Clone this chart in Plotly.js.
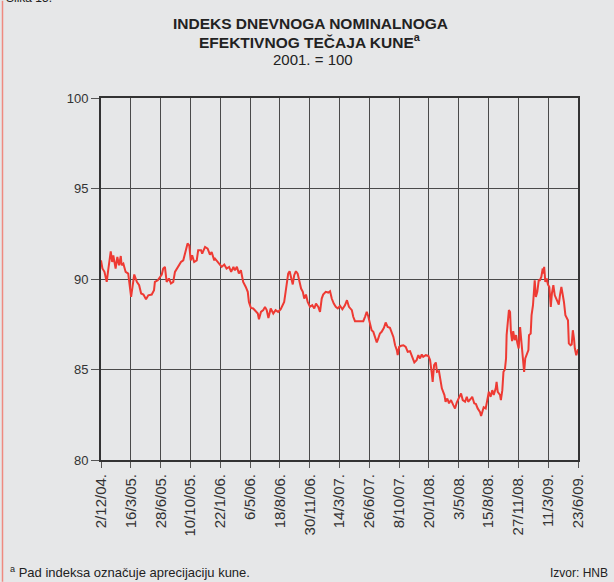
<!DOCTYPE html>
<html>
<head>
<meta charset="utf-8">
<script src="https://cdn.plot.ly/plotly-3.0.1.min.js"></script>
<style>
  html, body { margin: 0; padding: 0; background: #e6e7e8; }
  #chart { width: 614px; height: 582px; }
</style>
</head>
<body>
<div id="chart"></div>
<script>
// Tick labels on the x axis (dates, d/m/yy.)
const tickLabels = ['2/12/04.', '16/3/05.', '28/6/05.', '10/10/05.', '22/1/06.', '6/5/06.', '18/8/06.',
  '30/11/06.', '14/3/07.', '26/6/07.', '8/10/07.', '20/1/08.', '3/5/08.', '15/8/08.', '27/11/08.',
  '11/3/09.', '23/6/09.'];

// Observation dates, as days after 2 Dec 2004
const dayOffsets = [0, 5, 12, 20, 25, 34, 39, 43, 51, 57, 63, 69, 72, 78, 86, 95, 105, 111, 116, 125,
  133, 140, 148, 157, 165, 177, 185, 188, 198, 206, 212, 217, 223, 229, 237, 244, 252, 258, 268, 279,
  287, 293, 302, 308, 313, 318, 325, 334, 339, 349, 353, 363, 372, 380, 386, 395, 398, 412, 421, 430,
  438, 447, 454, 462, 467, 474, 481, 488, 496, 505, 512, 516, 523, 531, 540, 547, 551, 558, 566, 572,
  578, 584, 592, 601, 609, 618, 627, 634, 639, 644, 649, 653, 658, 663, 669, 674, 680, 686, 692, 698,
  704, 709, 715, 721, 729, 737, 744, 750, 758, 764, 770, 775, 784, 793, 799, 805, 812, 819, 826, 834,
  842, 851, 858, 865, 875, 880, 886, 898, 915, 921, 927, 932, 938, 944, 950, 956, 962, 967, 973, 979,
  987, 993, 1000, 1008, 1014, 1020, 1026, 1032, 1035, 1040, 1047, 1055, 1063, 1070, 1078, 1086, 1093,
  1101, 1107, 1113, 1119, 1124, 1133, 1142, 1148, 1154, 1157, 1162, 1168, 1172, 1179, 1189, 1198, 1202,
  1208, 1214, 1221, 1229, 1235, 1241, 1249, 1256, 1262, 1270, 1276, 1281, 1291, 1295, 1302, 1308, 1314,
  1322, 1326, 1330, 1335, 1342, 1347, 1353, 1359, 1365, 1370, 1377, 1380, 1384, 1392, 1395, 1400, 1404,
  1409, 1413, 1415, 1421, 1423, 1427, 1430, 1434, 1438, 1443, 1448, 1452, 1457, 1462, 1465, 1470, 1476,
  1480, 1485, 1491, 1493, 1499, 1502, 1507, 1513, 1517, 1522, 1527, 1531, 1536, 1541, 1543, 1546, 1550,
  1555, 1559, 1564, 1569, 1573, 1578, 1583, 1587, 1592, 1597, 1601, 1606, 1610, 1615, 1620, 1625, 1629,
  1632, 1638, 1642, 1646, 1650, 1653, 1658, 1664];

// Index values (2001 = 100)
const indexValues = [91.03, 90.58, 90.40, 89.84, 90.48, 91.53, 90.94, 91.30, 90.58, 91.22, 90.76, 91.27,
  90.76, 90.85, 90.39, 90.30, 89.01, 89.66, 90.25, 89.84, 89.66, 89.20, 89.14, 88.88, 89.10, 89.14, 89.38,
  89.84, 89.93, 90.11, 90.25, 90.58, 90.67, 89.84, 90.03, 89.75, 89.84, 90.39, 90.67, 90.94, 91.03, 91.40,
  91.96, 91.86, 91.03, 91.31, 90.94, 91.03, 91.59, 91.59, 91.40, 91.77, 91.68, 91.35, 91.49, 91.03, 91.12,
  90.85, 90.67, 90.80, 90.58, 90.67, 90.39, 90.67, 90.48, 90.67, 90.30, 90.48, 89.84, 89.56, 89.29, 88.73,
  88.40, 88.37, 88.18, 88.09, 87.78, 88.18, 88.28, 88.46, 88.28, 87.85, 88.37, 88.09, 88.28, 88.18, 88.33,
  88.55, 88.73, 89.29, 89.84, 90.30, 90.43, 90.03, 89.70, 90.21, 90.43, 90.30, 89.93, 89.47, 89.29, 88.92,
  89.14, 88.73, 88.46, 88.55, 88.37, 88.64, 88.46, 88.18, 88.92, 89.14, 89.29, 89.25, 89.32, 88.92, 88.64,
  88.46, 88.37, 88.51, 88.33, 88.55, 88.83, 88.46, 88.28, 87.91, 87.67, 87.67, 87.67, 87.91, 88.18, 87.96,
  87.49, 87.17, 87.08, 86.71, 86.49, 86.71, 86.99, 87.08, 87.30, 87.60, 87.35, 87.30, 87.08, 86.80, 86.34,
  86.07, 85.79, 86.25, 86.31, 86.34, 86.25, 85.98, 86.01, 85.61, 85.39, 85.52, 85.79, 85.61, 85.83, 85.70,
  85.79, 85.75, 85.52, 84.78, 84.32, 85.24, 85.39, 84.87, 84.91, 83.96, 83.59, 83.22, 83.40, 83.13, 83.31,
  83.03, 82.85, 83.17, 83.49, 83.68, 83.31, 83.22, 83.49, 83.22, 83.40, 83.49, 83.13, 83.09, 82.85, 82.66,
  82.43, 82.66, 82.91, 82.85, 83.31, 83.77, 83.49, 83.86, 83.59, 83.96, 84.32, 83.77, 83.59, 83.31, 83.86,
  84.87, 85.00, 85.61, 86.90, 87.72, 88.28, 88.18, 87.08, 86.57, 87.12, 86.62, 86.90, 86.49, 86.16, 87.35,
  86.80, 86.16, 84.87, 85.61, 85.79, 86.07, 86.90, 86.99, 88.00, 88.55, 89.93, 89.01, 89.29, 89.93, 89.93,
  90.11, 90.58, 90.30, 90.67, 89.84, 90.03, 89.70, 89.56, 88.46, 89.20, 89.66, 89.10, 88.92, 88.77, 88.59,
  89.10, 89.56, 89.20, 88.73, 88.00, 87.82, 87.72, 86.44, 86.34, 86.38, 87.17, 86.71, 86.16, 85.79, 86.12];

const titleLines = ['INDEKS DNEVNOGA NOMINALNOGA', 'EFEKTIVNOG TEČAJA KUNE<sup>a</sup>'];
const subtitle = '2001. = 100';
const footnote = '<sup>a</sup> Pad indeksa označuje aprecijaciju kune.';
const sourceNote = 'Izvor: HNB';
const figureLabel = 'Slika 15.';

function labelToISO(lbl) {
  const p = lbl.replace(/\.$/, '').split('/');
  const d = String(parseInt(p[0], 10)).padStart(2, '0');
  const m = String(parseInt(p[1], 10)).padStart(2, '0');
  const y = 2000 + parseInt(p[2], 10);
  return y + '-' + m + '-' + d;
}
const tickVals = tickLabels.map(labelToISO);
const base = new Date(tickVals[0] + 'T00:00:00Z').getTime();
const dates = dayOffsets.map(o => new Date(base + o * 86400000).toISOString().slice(0, 10));

// pixel helpers for annotation placement (layout only)
const W = 614, H = 582, L = 101, R = 36, T = 97.5, B = 122;
const pw = W - L - R, ph = H - T - B;
const px = x => (x - L) / pw;
const py = y => (H - B - y) / ph;

const font = 'Liberation Sans, Arial, sans-serif';

const trace = {
  type: 'scatter',
  mode: 'lines',
  x: dates,
  y: indexValues,
  line: { color: '#ee3a33', width: 2 },
  hoverinfo: 'skip'
};

const layout = {
  width: W, height: H,
  margin: { l: L, r: R, t: T, b: B },
  paper_bgcolor: '#e6e7e8',
  plot_bgcolor: '#e6e7e8',
  showlegend: false,
  font: { family: font, color: '#333', size: 12 },
  xaxis: {
    type: 'date',
    range: [tickVals[0], tickVals[tickVals.length - 1]],
    tickmode: 'array',
    tickvals: tickVals,
    ticktext: tickLabels,
    tickangle: -90,
    ticks: 'outside', ticklen: 6, tickcolor: '#555', tickwidth: 1,
    showgrid: true, gridcolor: '#4a4a4a', gridwidth: 1,
    showline: true, linecolor: '#333', linewidth: 2, mirror: true,
    zeroline: false,
    tickfont: { family: font, size: 15, color: '#333' },
    fixedrange: true
  },
  yaxis: {
    range: [80, 100],
    tickmode: 'array',
    tickvals: [80, 85, 90, 95, 100],
    ticks: 'outside', ticklen: 8, tickcolor: '#555', tickwidth: 1,
    showgrid: true, gridcolor: '#4a4a4a', gridwidth: 1,
    showline: true, linecolor: '#333', linewidth: 2, mirror: true,
    zeroline: false,
    tickfont: { family: font, size: 13, color: '#333' },
    fixedrange: true
  },
  shapes: [
    { type: 'line', xref: 'paper', yref: 'paper', x0: px(2.5), x1: px(2.5), y0: py(0), y1: py(H),
      line: { color: '#ef8a80', width: 1.5 } }
  ],
  annotations: [
    { xref: 'paper', yref: 'paper', x: px(310), y: py(23), xanchor: 'center', yanchor: 'middle',
      text: '<b>' + titleLines[0] + '</b>', showarrow: false,
      font: { family: font, size: 15.5, color: '#222' } },
    { xref: 'paper', yref: 'paper', x: px(310), y: py(40), xanchor: 'center', yanchor: 'middle',
      text: '<b>' + titleLines[1] + '</b>', showarrow: false,
      font: { family: font, size: 15.5, color: '#222' } },
    { xref: 'paper', yref: 'paper', x: px(313), y: py(59), xanchor: 'center', yanchor: 'middle',
      text: subtitle, showarrow: false, font: { family: font, size: 15, color: '#222' } },
    { xref: 'paper', yref: 'paper', x: px(8), y: py(582), xanchor: 'left', yanchor: 'bottom',
      text: footnote, showarrow: false, font: { family: font, size: 13, color: '#222' } },
    { xref: 'paper', yref: 'paper', x: px(610), y: py(582), xanchor: 'right', yanchor: 'bottom',
      text: sourceNote, showarrow: false, font: { family: font, size: 12, color: '#222' } },
    { xref: 'paper', yref: 'paper', x: px(4), y: py(-3), xanchor: 'left', yanchor: 'middle',
      text: figureLabel, showarrow: false, font: { family: font, size: 12, color: '#222' } }
  ]
};

Plotly.newPlot('chart', [trace], layout, { staticPlot: true, displayModeBar: false });
</script>
</body>
</html>
